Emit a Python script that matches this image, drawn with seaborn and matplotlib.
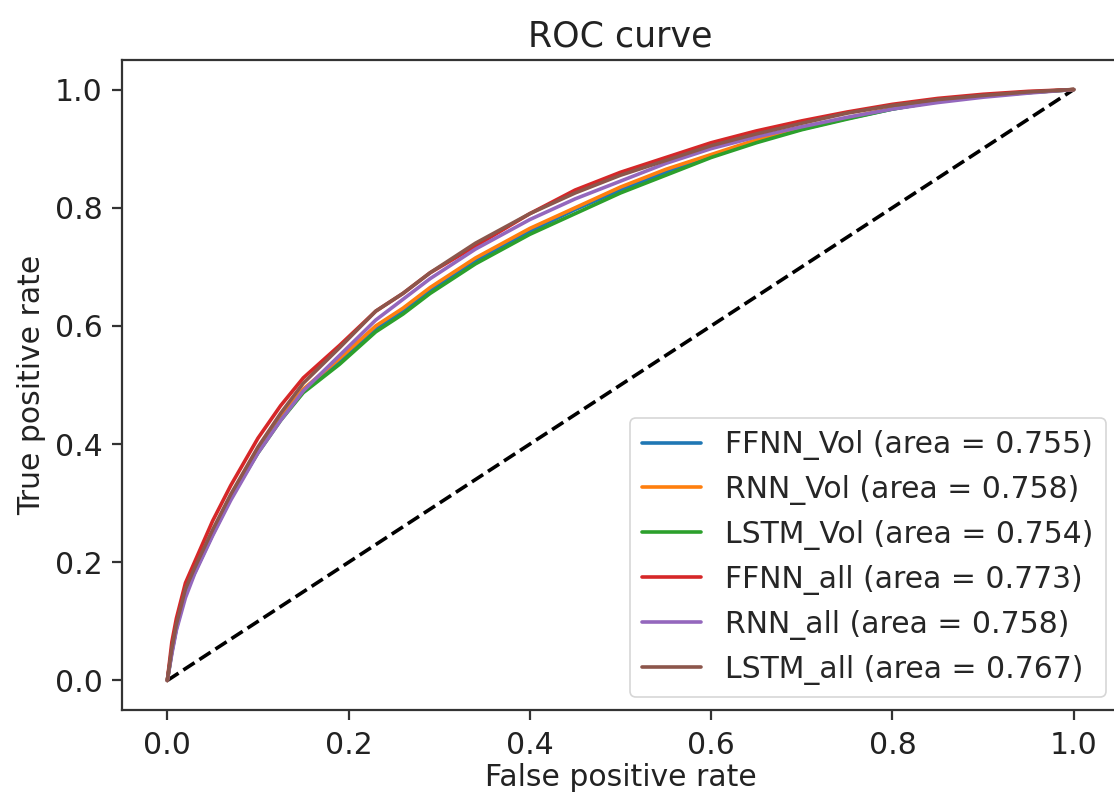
import numpy as np
import pandas as pd
import seaborn as sns
import matplotlib
matplotlib.use('Agg')
import matplotlib.pyplot as plt

# false positive rates shared by every model
fpr = [0, 0.005, 0.01, 0.02, 0.03, 0.05, 0.07, 0.10, 0.125, 0.15, 0.19, 0.23,
       0.26, 0.29, 0.34, 0.40, 0.45, 0.50, 0.55, 0.60, 0.65, 0.70, 0.75, 0.80,
       0.85, 0.90, 0.95, 1.0]

tpr_ffnn_vol = [0, 0.048, 0.088, 0.147, 0.182, 0.247, 0.308, 0.387, 0.442, 0.49,
                0.54, 0.595, 0.625, 0.66, 0.71, 0.76, 0.797, 0.83, 0.86, 0.888,
                0.913, 0.933, 0.951, 0.967, 0.98, 0.989, 0.995, 1.0]
tpr_rnn_vol = [0, 0.05, 0.09, 0.15, 0.185, 0.25, 0.31, 0.39, 0.445, 0.493,
               0.545, 0.6, 0.63, 0.665, 0.715, 0.765, 0.80, 0.835, 0.865, 0.89,
               0.915, 0.935, 0.952, 0.968, 0.98, 0.989, 0.995, 1.0]
tpr_lstm_vol = [0, 0.05, 0.09, 0.148, 0.183, 0.248, 0.31, 0.385, 0.44, 0.487,
                0.535, 0.59, 0.62, 0.655, 0.705, 0.755, 0.79, 0.825, 0.855, 0.885,
                0.91, 0.932, 0.95, 0.967, 0.98, 0.989, 0.995, 1.0]
tpr_ffnn_all = [0, 0.065, 0.105, 0.165, 0.20, 0.27, 0.33, 0.41, 0.465, 0.512,
                0.567, 0.625, 0.655, 0.69, 0.735, 0.79, 0.83, 0.86, 0.885, 0.91,
                0.93, 0.947, 0.962, 0.975, 0.985, 0.992, 0.997, 1.0]
tpr_rnn_all = [0, 0.045, 0.085, 0.14, 0.18, 0.245, 0.305, 0.385, 0.44, 0.49,
               0.55, 0.61, 0.645, 0.68, 0.73, 0.78, 0.815, 0.845, 0.875, 0.9,
               0.92, 0.937, 0.953, 0.967, 0.978, 0.987, 0.994, 1.0]
tpr_lstm_all = [0, 0.055, 0.095, 0.155, 0.19, 0.255, 0.315, 0.395, 0.452, 0.503,
                0.563, 0.625, 0.655, 0.69, 0.74, 0.79, 0.825, 0.855, 0.88, 0.905,
                0.925, 0.943, 0.96, 0.973, 0.983, 0.99, 0.996, 1.0]

models = ['FFNN_Vol', 'RNN_Vol', 'LSTM_Vol', 'FFNN_all', 'RNN_all', 'LSTM_all']
aucs = [0.755, 0.758, 0.754, 0.773, 0.758, 0.767]
tprs = [tpr_ffnn_vol, tpr_rnn_vol, tpr_lstm_vol, tpr_ffnn_all, tpr_rnn_all, tpr_lstm_all]

sns.set_style("ticks")
plt.rcParams['font.family'] = ['DejaVu Sans']

fig = plt.figure(figsize=(11.14, 8.0), dpi=100)
ax = fig.add_axes([122 / 1114, 90 / 800, 997 / 1114, 650 / 800])

colors = sns.color_palette("tab10")

ax.plot([0, 1], [0, 1], 'k--', linewidth=2.6)
for i, (name, auc, tpr) in enumerate(zip(models, aucs, tprs)):
    df = pd.DataFrame({'fpr': fpr, 'tpr': tpr})
    sns.lineplot(data=df, x='fpr', y='tpr', ax=ax, color=colors[i],
                 linewidth=2.6, sort=False, estimator=None,
                 label='{} (area = {:.3f})'.format(name, auc))

ax.set_xlim(-0.05, 1.05)
ax.set_ylim(-0.05, 1.05)
ax.set_xticks([0, 0.2, 0.4, 0.6, 0.8, 1.0])
ax.set_yticks([0, 0.2, 0.4, 0.6, 0.8, 1.0])
ax.set_xticklabels(['0.0', '0.2', '0.4', '0.6', '0.8', '1.0'])
ax.set_yticklabels(['0.0', '0.2', '0.4', '0.6', '0.8', '1.0'])
ax.tick_params(labelsize=21.5, length=7, width=1.6, colors='#333333', labelcolor='#222222')
ax.tick_params(axis='x', pad=8)
ax.tick_params(axis='y', pad=7)
for s in ax.spines.values():
    s.set_linewidth(1.6)
    s.set_color('#333333')

ax.set_xlabel('False positive rate', fontsize=21.5, color='#222222', labelpad=2)
ax.set_ylabel('True positive rate', fontsize=21.5, color='#222222', labelpad=6)
ax.set_title('ROC curve', fontsize=25, color='#222222', pad=10)

leg = ax.legend(loc='lower right', fontsize=21.5, frameon=True, handlelength=2.0,
                borderaxespad=0.45)
leg.get_frame().set_edgecolor('#cccccc')
leg.get_frame().set_linewidth(1.2)

plt.savefig('out.png', dpi=100)
plt.close()
